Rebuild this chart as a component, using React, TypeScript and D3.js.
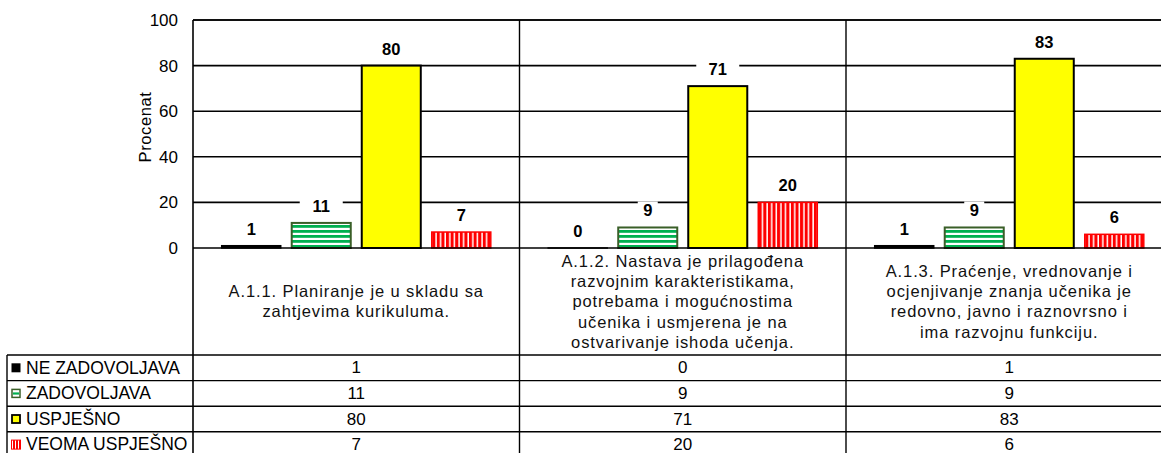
import React from 'react'
import * as d3 from 'd3'

// data
const categories = ['A.1.1.', 'A.1.2.', 'A.1.3.']
const categoryLines = [
  ['A.1.1. Planiranje je u skladu sa', 'zahtjevima kurikuluma.'],
  ['A.1.2. Nastava je prilagođena', 'razvojnim karakteristikama,', 'potrebama i mogućnostima', 'učenika i usmjerena je na', 'ostvarivanje ishoda učenja.'],
  ['A.1.3. Praćenje, vrednovanje i', 'ocjenjivanje znanja učenika je', 'redovno, javno i raznovrsno i', 'ima razvojnu funkciju.'],
]
const seriesNames = ['NE ZADOVOLJAVA', 'ZADOVOLJAVA', 'USPJEŠNO', 'VEOMA USPJEŠNO']
const neZadovoljava = [1, 0, 1]
const zadovoljava = [11, 9, 9]
const uspjesno = [80, 71, 83]
const veomaUspjesno = [7, 20, 6]
const yTicks = [0, 20, 40, 60, 80, 100]

const seriesValues = [neZadovoljava, zadovoljava, uspjesno, veomaUspjesno]

/* const setup */
const W = 1161
const H = 453
const plotLeft = 193
const plotTop = 20
const plotBottom = 248
const bandW = 326.5
const tableTop = 355
const rowH = 25.6
const tableLeft = 7
const font = 'Liberation Sans, Arial, sans-serif'

const fills = ['#000', 'url(#pGreen)', '#ffff00', 'url(#pRed)']
const strokes = ['#000', '#3a5f28', '#000', '#ff0000']
const strokeW = [1.5, 2, 2, 1.5]

export default function App() {
  const x = d3.scaleBand<string>()
    .domain(categories)
    .range([plotLeft, plotLeft + bandW * categories.length])
  const xInner = d3.scaleBand<string>()
    .domain(seriesNames)
    .range([0, x.bandwidth()])
    .paddingInner(0.157)
    .paddingOuter(0.41)
  const y = d3.scaleLinear().domain([0, 100]).range([plotBottom, plotTop])

  const right = plotLeft + bandW * categories.length
  const tableBottom = tableTop + rowH * seriesNames.length
  const labelMid = (plotBottom + tableTop) / 2

  return (
    <svg width={W} height={H} style={{ position: 'absolute', left: 0, top: 0, background: '#fff' }}
      fontFamily={font}>
      <defs>
        <pattern id="pGreen" patternUnits="userSpaceOnUse" width="6" height="5">
          <rect width="6" height="5" fill="#fff" />
          <rect width="6" height="2.8" fill="#00b050" />
        </pattern>
        <pattern id="pRed" patternUnits="userSpaceOnUse" width="4.6" height="6">
          <rect width="4.6" height="6" fill="#fff" />
          <rect width="3.1" height="6" fill="#ff0000" />
        </pattern>
        <pattern id="pRedKey" patternUnits="userSpaceOnUse" width="3" height="6" x="13">
          <rect width="3" height="6" fill="#fff" />
          <rect width="2" height="6" fill="#ff0000" />
        </pattern>
      </defs>

      {/* gridlines */}
      {yTicks.filter(t => t > 0).map(t => (
        <line key={t} x1={plotLeft} x2={right} y1={y(t)} y2={y(t)} stroke="#000" strokeWidth={1.6} />
      ))}

      {/* y tick labels */}
      {yTicks.map(t => (
        <text key={t} x={178} y={y(t)} dy="0.35em" textAnchor="end" fontSize={17}>{t}</text>
      ))}
      <text transform={`translate(151,127) rotate(-90)`} textAnchor="middle"
        fontSize={16.5} letterSpacing={0.6}>Procenat</text>

      {/* bars */}
      {categories.map((c, ci) => (
        <g key={c} transform={`translate(${x(c)},0)`}>
          {seriesNames.map((s, si) => {
            const v = seriesValues[si][ci]
            const top = y(v)
            return (
              <rect key={s} x={xInner(s)} y={top} width={xInner.bandwidth()}
                height={Math.max(0.01, plotBottom - top)} fill={fills[si]}
                stroke={strokes[si]} strokeWidth={strokeW[si]} />
            )
          })}
          {seriesNames.map((s, si) => {
            const v = seriesValues[si][ci]
            const cy = y(v) - 17
            const txt = String(v)
            const bw = txt.length === 1 ? 20 : 43
            const cx = (xInner(s) as number) + xInner.bandwidth() / 2
            return (
              <g key={s}>
                <rect x={cx - bw / 2} y={cy - 9} width={bw} height={18} fill="#fff" />
                <text x={cx} y={cy} dy="0.36em" textAnchor="middle" fontSize={16.5} fontWeight="bold">{txt}</text>
              </g>
            )
          })}
        </g>
      ))}

      {/* plot frame and axis */}
      <line x1={plotLeft} x2={right} y1={plotTop} y2={plotTop} stroke="#000" strokeWidth={1.6} />
      <line x1={plotLeft} x2={right} y1={plotBottom} y2={plotBottom} stroke="#000" strokeWidth={1.6} />
      <line x1={plotLeft} x2={plotLeft} y1={plotTop} y2={tableBottom} stroke="#000" strokeWidth={1.6} />
      {categories.slice(1).map(c => (
        <line key={c} x1={x(c)} x2={x(c)} y1={plotTop} y2={tableBottom} stroke="#000" strokeWidth={1.4} />
      ))}
      <line x1={right} x2={right} y1={plotTop} y2={tableBottom} stroke="#000" strokeWidth={1.4} />

      {/* category labels */}
      {categories.map((c, ci) => {
        const lines = categoryLines[ci]
        const cx = (x(c) as number) + bandW / 2
        const lh = 20.3
        const y0 = labelMid - ((lines.length - 1) * lh) / 2
        return (
          <text key={c} textAnchor="middle" fontSize={16.5} letterSpacing={0.9} fill="#111">
            {lines.map((l, li) => (
              <tspan key={li} x={cx} y={y0 + li * lh} dy="0.35em">{l}</tspan>
            ))}
          </text>
        )
      })}

      {/* data table */}
      {seriesNames.map((s, si) => {
        const ry = tableTop + si * rowH
        const my = ry + rowH / 2
        return (
          <g key={s}>
            <line x1={tableLeft} x2={right} y1={ry} y2={ry} stroke="#000" strokeWidth={1.4} />
            {si === 0 && <rect x={11.5} y={my - 4.5} width={9} height={9} fill="#000" />}
            {si === 1 && <g>
              <rect x={12} y={my - 4} width={8} height={8} fill="#fff" stroke="#3a5f28" strokeWidth={1.5} />
              <rect x={13} y={my - 1} width={6} height={2.2} fill="#00b050" />
            </g>}
            {si === 2 && <rect x={12} y={my - 4} width={8} height={8} fill="#ffff00" stroke="#000" strokeWidth={1.8} />}
            {si === 3 && <rect x={11.5} y={my - 4.5} width={9} height={9} fill="url(#pRedKey)" stroke="#ff0000" strokeWidth={1} />}
            <text x={26} y={my} dy="0.33em" fontSize={17.5}>{s}</text>
            {categories.map((c, ci) => (
              <text key={c} x={(x(c) as number) + bandW / 2} y={my} dy="0.33em" textAnchor="middle" fontSize={17}>
                {seriesValues[si][ci]}
              </text>
            ))}
          </g>
        )
      })}
      <line x1={tableLeft} x2={right} y1={tableBottom} y2={tableBottom} stroke="#000" strokeWidth={1.4} />
      <line x1={tableLeft} x2={tableLeft} y1={tableTop} y2={tableBottom} stroke="#000" strokeWidth={1.4} />
    </svg>
  )
}
